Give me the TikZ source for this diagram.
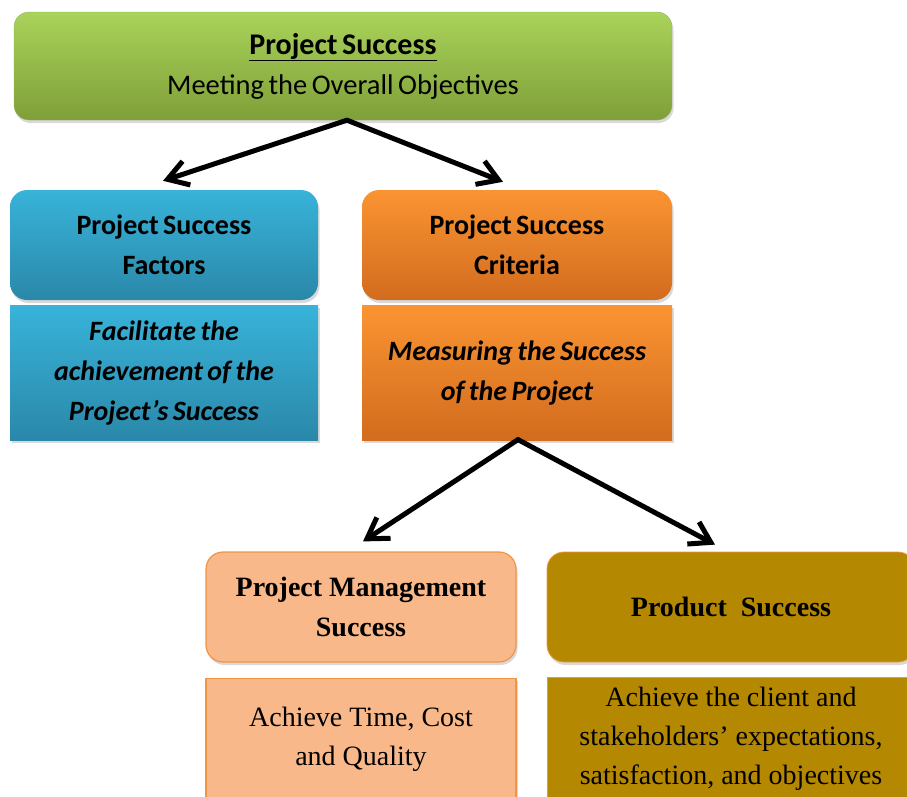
\documentclass[tikz,border=0pt]{standalone}
\usepackage{fontspec}
\setmainfont{Carlito}
\newfontfamily\timesfont{Liberation Serif}
\usetikzlibrary{arrows.meta,positioning,shadows}

\definecolor{grnTop}{HTML}{A9D35A}
\definecolor{grnBot}{HTML}{7F9F38}
\definecolor{bluTop}{HTML}{38B3D9}
\definecolor{bluBot}{HTML}{2A88A9}
\definecolor{orgTop}{HTML}{FA9432}
\definecolor{orgBot}{HTML}{D26C1E}
\definecolor{peach}{HTML}{F8B88A}
\definecolor{peachLine}{HTML}{F39445}
\definecolor{olive}{HTML}{B48800}

% tighter word spacing, as in the slide
\newcommand{\tightsp}{\spaceskip=0.16em plus 0.05em minus 0.05em\relax}

\begin{document}
\begin{tikzpicture}[
  x=1pt, y=-1pt,
  shade/.style={drop shadow={opacity=0.3, shadow xshift=1.5pt, shadow yshift=-3pt}},
  hdr/.style={rectangle, rounded corners=17pt, minimum width=308pt,
              minimum height=110pt, inner sep=0pt, align=center,
              font=\fontsize{28}{40}\selectfont\bfseries\tightsp, shade},
  body/.style={rectangle, minimum width=308pt, minimum height=135pt,
               inner sep=0pt, align=center,
               font=\fontsize{28}{40}\selectfont\bfseries\itshape\tightsp, shade},
  lohdr/.style={hdr, font=\timesfont\fontsize{28}{40}\selectfont\bfseries},
  lobody/.style={body, minimum height=122pt,
                 font=\timesfont\fontsize{28}{39}\selectfont},
  arr/.style={-{Straight Barb[length=20pt,width=25pt]}, line width=5pt,
              line cap=round, line join=round},
]
  \clip (0,0) rectangle (907,796);

  % Goal
  \node[hdr, rounded corners=15pt, minimum width=658pt, minimum height=108pt,
        top color=grnTop, bottom color=grnBot, draw=grnBot!80,
        font=\fontsize{28.5}{40}\selectfont\tightsp] (goal) at (343,66)
    {\underline{\textbf{\fontsize{30}{40}\selectfont Project Success}}\\Meeting the Overall Objectives};

  % Factors and criteria
  \node[hdr, top color=bluTop, bottom color=bluBot] (fact) at (164,245)
    {Project Success\\Factors};
  \node[body, top color=bluTop, bottom color=bluBot, below=5pt of fact] (factTxt)
    {Facilitate the\\achievement of the\\Project’s Success};
  \node[hdr, minimum width=310pt, top color=orgTop, bottom color=orgBot] (crit) at (517,245)
    {Project Success\\Criteria};
  \node[body, minimum width=310pt, top color=orgTop, bottom color=orgBot,
        below=5pt of crit] (critTxt)
    {Measuring the Success\\of the Project};

  % Two kinds of success
  \node[lohdr, minimum width=310pt, fill=peach, draw=peachLine, line width=1.2pt]
    (pm) at (361,607) {Project Management\\Success};
  \node[lobody, minimum width=310pt, fill=peach, draw=peachLine, line width=1.2pt,
        below=15pt of pm] (pmTxt)
    {Achieve Time, Cost\\and Quality};
  \node[lohdr, minimum width=368pt, fill=olive, draw=peachLine, line width=0.8pt]
    (prod) at (731,607) {Product\ \ Success};
  \node[lobody, minimum width=368pt, fill=olive, draw=peachLine, line width=0.8pt,
        below=15pt of prod] (prodTxt)
    {Achieve the client and\\stakeholders’ expectations,\\satisfaction, and objectives};

  % Arrows
  \draw[arr] ([xshift=4pt]goal.south) -- ([xshift=-1pt,yshift=9pt]fact.north);
  \draw[arr] ([xshift=4pt]goal.south) -- ([xshift=-14pt,yshift=8pt]crit.north);
  \draw[arr] ([xshift=1pt,yshift=1pt]critTxt.south) -- ([xshift=2pt,yshift=10pt]pm.north);
  \draw[arr] ([xshift=1pt,yshift=1pt]critTxt.south) -- ([xshift=-16pt,yshift=7pt]prod.north);
\end{tikzpicture}
\end{document}
